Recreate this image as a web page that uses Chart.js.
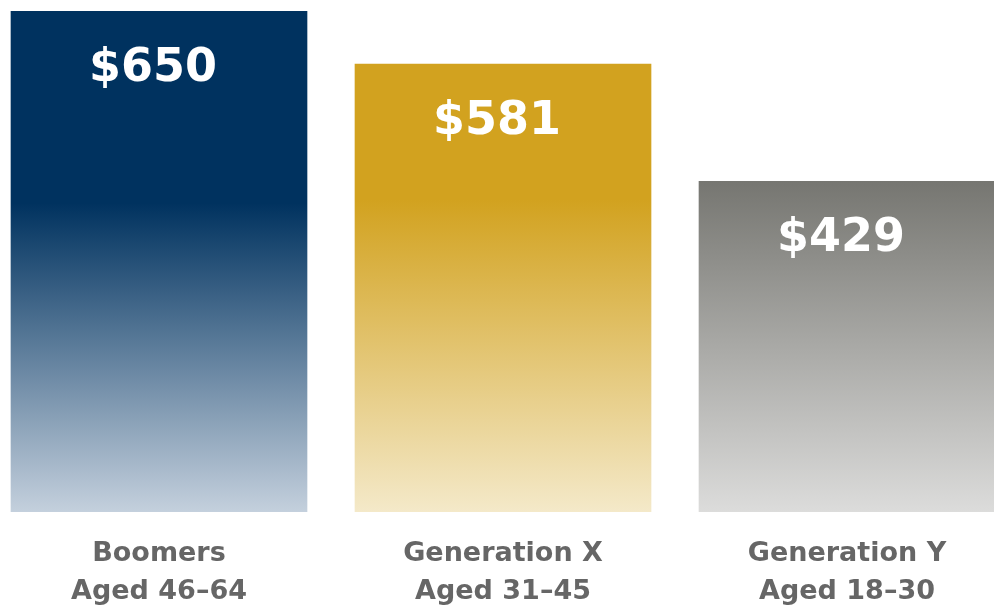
<!DOCTYPE html>
<html>
<head>
<meta charset="utf-8">
<script src="https://cdn.jsdelivr.net/npm/chart.js@4.4.1/dist/chart.umd.min.js"></script>
<style>
  html, body { margin: 0; padding: 0; background: #ffffff; }
  #wrap { width: 994px; height: 606px; position: relative; }
</style>
</head>
<body>
<div id="wrap"><canvas id="c" width="994" height="606"></canvas></div>
<script>
// ---- data ----
const generations = ["Boomers", "Generation X", "Generation Y"];
const ageRanges = ["Aged 46\u201364", "Aged 31\u201345", "Aged 18\u201330"];
const spending = [650, 581, 429];
const valuePrefix = "$";

// ---- styles ----
const topColors = ["#00325f", "#d2a21f", "#767671"];
const bottomColors = ["#c4d0dd", "#f4e9c9", "#dcdcdb"];
const solidUntilValue = [401, 405, null]; // value where gradient starts (null = at bar top)

function barGradient(ctx) {
  const chart = ctx.chart;
  const area = chart.chartArea;
  const i = ctx.dataIndex;
  if (!area || i === undefined) return topColors[i || 0];
  const y = chart.scales.y;
  const yBottom = y.getPixelForValue(0);
  const startVal = solidUntilValue[i] !== null ? solidUntilValue[i] : spending[i];
  const yStart = y.getPixelForValue(startVal);
  const g = chart.ctx.createLinearGradient(0, yStart, 0, yBottom);
  g.addColorStop(0, topColors[i]);
  g.addColorStop(1, bottomColors[i]);
  return g;
}

const valueLabels = {
  id: 'valueLabels',
  afterDatasetsDraw(chart) {
    const ctx = chart.ctx;
    const meta = chart.getDatasetMeta(0);
    ctx.save();
    ctx.fillStyle = '#ffffff';
    ctx.font = 'bold 46px "DejaVu Sans"';
    ctx.textAlign = 'center';
    ctx.textBaseline = 'middle';
    meta.data.forEach((bar, i) => {
      ctx.fillText(valuePrefix + spending[i], bar.x - 6, bar.y + 58);
    });
    ctx.restore();
  }
};

new Chart(document.getElementById('c'), {
  type: 'bar',
  data: {
    datasets: [{
      data: spending.map((v, i) => ({ x: i, y: v })),
      backgroundColor: barGradient,
      borderWidth: 0,
      barThickness: 296
    }]
  },
  options: {
    responsive: false,
    animation: false,
    layout: { padding: { top: 11, left: 0, right: 0, bottom: 0 } },
    plugins: { legend: { display: false }, tooltip: { enabled: false } },
    scales: {
      x: {
        type: 'linear',
        offset: false,
        bounds: 'data',
        min: -0.4622,
        max: 2.4273,
        grid: { display: false, drawTicks: false, offset: false },
        border: { display: false },
        afterBuildTicks(axis) { axis.ticks = [0, 1, 2].map(v => ({ value: v })); },
        afterFit(axis) { axis.height = 94; },
        ticks: {
          autoSkip: false,
          maxRotation: 0,
          padding: 23,
          color: '#666666',
          font: { family: '"DejaVu Sans"', size: 27, weight: 'bold', lineHeight: 1.4 },
          callback(value) { return [generations[value], ageRanges[value]]; }
        }
      },
      y: {
        display: false,
        min: 0,
        max: 650
      }
    }
  },
  plugins: [valueLabels]
});
</script>
</body>
</html>
